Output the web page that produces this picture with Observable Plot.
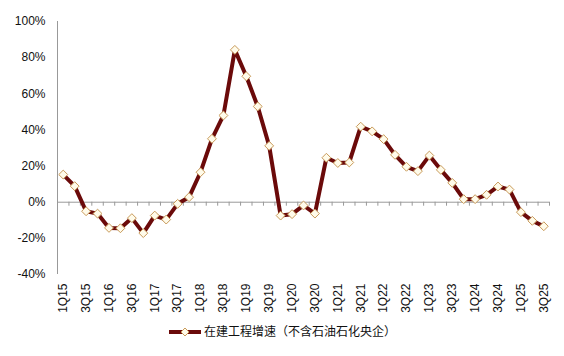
<!DOCTYPE html>
<html>
<head>
<meta charset="utf-8">
<script src="https://cdn.jsdelivr.net/npm/d3@7"></script>
<script src="https://cdn.jsdelivr.net/npm/@observablehq/plot@0.6"></script>
<style>
  html, body { margin: 0; padding: 0; background: #fff; }
  #chart { width: 564px; }
  .legend { width: 564px; height: 26px; line-height: 26px; text-align: center; font-family: "Noto Sans CJK SC", "Liberation Sans", sans-serif; font-size: 12px; color: #111; }
  .legend svg { vertical-align: middle; margin-right: 2px; position: relative; top: -1px; }
</style>
</head>
<body>
<div id="chart"></div>
<div class="legend"><svg width="34" height="10"><line x1="1" y1="5" x2="33" y2="5" stroke="#6B0A0A" stroke-width="4"/><path d="M17,1 L21,5 L17,9 L13,5 Z" fill="#FFFBEA" stroke="#C89A5A" stroke-width="1"/></svg><span>在建工程增速（不含石油石化央企）</span></div>
<script>
const quarters = [
  "1Q15","2Q15","3Q15","4Q15",
  "1Q16","2Q16","3Q16","4Q16",
  "1Q17","2Q17","3Q17","4Q17",
  "1Q18","2Q18","3Q18","4Q18",
  "1Q19","2Q19","3Q19","4Q19",
  "1Q20","2Q20","3Q20","4Q20",
  "1Q21","2Q21","3Q21","4Q21",
  "1Q22","2Q22","3Q22","4Q22",
  "1Q23","2Q23","3Q23","4Q23",
  "1Q24","2Q24","3Q24","4Q24",
  "1Q25","2Q25","3Q25"
];
const growth = [
  15.3, 8.9, -5.0, -6.3,
  -14.2, -14.4, -8.8, -17.1,
  -7.4, -9.6, -0.9, 2.8,
  16.6, 35.1, 48.0, 84.3,
  69.7, 53.0, 31.2, -7.4,
  -6.6, -1.8, -6.3, 24.6,
  21.7, 22.0, 41.8, 39.2,
  34.9, 26.2, 19.6, 17.2,
  25.8, 17.9, 10.7, 1.7,
  1.7, 4.1, 8.7, 7.0,
  -5.5, -10.3, -13.3
];
const yTicks = [-40, -20, 0, 20, 40, 60, 80, 100];

const data = quarters.map((q, i) => ({q, i, v: growth[i]}));
const pos = i => i + 0.5;
const labelIdx = quarters.map((q, i) => i).filter(i => i % 2 === 0);
const boundaries = d3.range(quarters.length + 1);

const chart = Plot.plot({
  width: 564,
  height: 318,
  marginLeft: 57,
  marginRight: 15,
  marginTop: 21,
  marginBottom: 44,
  style: { fontFamily: "'Liberation Sans', Arial, sans-serif", fontSize: "12px", color: "#111", background: "#fff" },
  x: { type: "linear", domain: [0, quarters.length] },
  y: { domain: [-40, 100] },
  marks: [
    Plot.ruleX([0], { stroke: "#999", strokeWidth: 1 }),
    Plot.ruleY([0], { stroke: "#999", strokeWidth: 1 }),
    Plot.ruleX(boundaries.slice(1), { x: d => d, y1: 0, y2: 0, insetBottom: -4, stroke: "#999", strokeWidth: 1 }),
    Plot.axisY(yTicks, { tickSize: 0, tickPadding: 12, tickFormat: d => d + "%", fontSize: 12, fill: "#111", label: null }),
    Plot.axisX(labelIdx.map(pos), { tickSize: 0, tickPadding: 9, tickRotate: -90, tickFormat: d => quarters[Math.round(d - 0.5)], fontSize: 12, fill: "#111", label: null }),
    Plot.line(data, { x: d => pos(d.i), y: "v", stroke: "#6B0A0A", strokeWidth: 4, strokeLinejoin: "round" }),
    Plot.dot(data, { x: d => pos(d.i), y: "v", symbol: "diamond2", r: 4, fill: "#FFFBEA", stroke: "#C89A5A", strokeWidth: 1 })
  ]
});
document.getElementById("chart").appendChild(chart);
</script>
</body>
</html>
